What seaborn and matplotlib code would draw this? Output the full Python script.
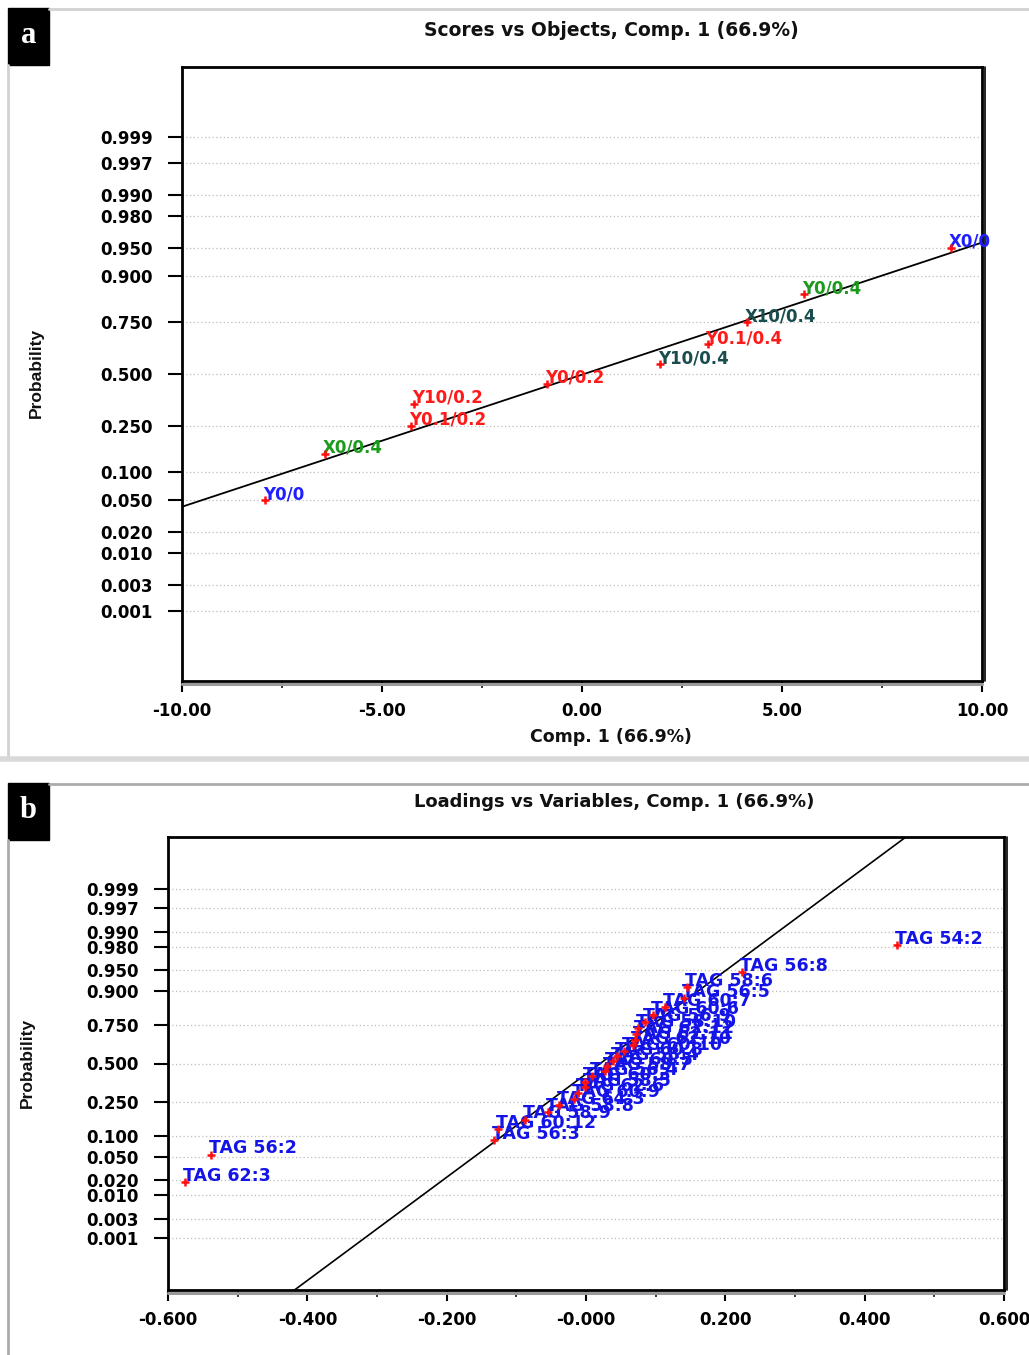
import numpy as np
import pandas as pd
import seaborn as sns
import matplotlib
matplotlib.use("Agg")
import matplotlib.pyplot as plt
from matplotlib.lines import Line2D
from matplotlib.patches import Rectangle
from matplotlib.ticker import FixedLocator, MultipleLocator, FixedFormatter, NullLocator
from matplotlib.transforms import offset_copy
from statistics import NormalDist

# ---------------- data ----------------
prob_ticks = [0.001, 0.003, 0.010, 0.020, 0.050, 0.100, 0.250, 0.500,
              0.750, 0.900, 0.950, 0.980, 0.990, 0.997, 0.999]

# (a) PCA scores on component 1, sorted, with their normal plotting positions
score_names = ["Y0/0", "X0/0.4", "Y0.1/0.2", "Y10/0.2", "Y0/0.2",
               "Y10/0.4", "Y0.1/0.4", "X10/0.4", "Y0/0.4", "X0/0"]
score_values = [-7.93, -6.43, -4.27, -4.19, -0.88, 1.95, 3.14, 4.12, 5.55, 9.23]
score_probs = [0.05, 0.15, 0.25, 0.35, 0.45, 0.55, 0.65, 0.75, 0.85, 0.95]
score_colors = ["#1f1fff", "#1c9a1c", "#ff1a1a", "#ff1a1a", "#ff1a1a",
                "#1a4d4d", "#ff1a1a", "#1a4d4d", "#1c9a1c", "#1f1fff"]
score_fit_mean, score_fit_sd = 0.05, 5.81
score_ticks = [-10, -5, 0, 5, 10]
score_tick_labels = ["-10.00", "-5.00", "0.00", "5.00", "10.00"]

# (b) PCA loadings on component 1, sorted, with their normal plotting positions
loading_names = ["TAG 62:3", "TAG 56:2", "TAG 56:3", "TAG 60:12", "TAG 58:9",
                 "TAG 58:8", "TAG 64:3", "TAG 60:9", "TAG 62:6", "TAG 58:5",
                 "TAG 60:3", "TAG 56:4", "TAG 58:7", "TAG 60:5", "TAG 58:4",
                 "TAG 60:8", "TAG 60:10", "TAG 62:10", "TAG 62:11", "TAG 62:12",
                 "TAG 58:10", "TAG 56:9", "TAG 60:6", "TAG 60:7", "TAG 56:5",
                 "TAG 58:6", "TAG 56:8", "TAG 54:2"]
loading_values = [-0.576, -0.538, -0.132, -0.126, -0.088, -0.055, -0.039, -0.017,
                  -0.012, -0.002, -0.001, 0.009, 0.027, 0.030, 0.039, 0.045,
                  0.055, 0.068, 0.070, 0.072, 0.075, 0.085, 0.096, 0.114,
                  0.141, 0.145, 0.224, 0.446]
loading_probs = [0.018, 0.054, 0.089, 0.125, 0.161, 0.196, 0.232, 0.268,
                 0.304, 0.339, 0.375, 0.411, 0.446, 0.482, 0.518, 0.554,
                 0.589, 0.625, 0.661, 0.696, 0.732, 0.768, 0.804, 0.839,
                 0.875, 0.911, 0.946, 0.982]
loading_fit_mean, loading_fit_sd = 0.0204, 0.1097
loading_ticks = [-0.6, -0.4, -0.2, 0.0, 0.2, 0.4, 0.6]
loading_tick_labels = ["-0.600", "-0.400", "-0.200", "-0.000", "0.200", "0.400", "0.600"]

# ---------------- normal probability scale ----------------
_nd = NormalDist()
_ppf = np.vectorize(_nd.inv_cdf, otypes=[float])
_cdf = np.vectorize(_nd.cdf, otypes=[float])


def prob_forward(p):
    p = np.clip(np.asarray(p, dtype=float), 1e-15, 1 - 1e-15)
    return _ppf(p)


def prob_inverse(z):
    return _cdf(np.asarray(z, dtype=float))


sns.set_theme(style="white")
plt.rcParams["font.family"] = ["DejaVu Sans"]
plt.rcParams["font.weight"] = "bold"

W, H = 1029, 1355
fig = plt.figure(figsize=(W / 100, H / 100), dpi=100)


def box(l, t, r, b):
    return [l / W, 1 - b / H, (r - l) / W, (b - t) / H]


def fpt(x, y):
    return (x / W, 1 - y / H)


def style_axes(ax, xlim, xticks, xlabels, xminor):
    ax.set_yscale("function", functions=(prob_forward, prob_inverse))
    ax.set_ylim(float(prob_inverse(-4.0)), float(prob_inverse(4.0)))
    ax.yaxis.set_major_locator(FixedLocator(prob_ticks))
    ax.yaxis.set_major_formatter(FixedFormatter([f"{p:.3f}" for p in prob_ticks]))
    ax.yaxis.set_minor_locator(NullLocator())
    ax.set_xlim(*xlim)
    ax.xaxis.set_major_locator(FixedLocator(xticks))
    ax.xaxis.set_major_formatter(FixedFormatter(xlabels))
    ax.xaxis.set_minor_locator(MultipleLocator(xminor))
    ax.yaxis.grid(True, linestyle=(0, (1, 2)), color="#bdbdbd", linewidth=0.9)
    ax.xaxis.grid(False)
    for s in ax.spines.values():
        s.set_color("black")
        s.set_linewidth(2.0)
    ax.tick_params(axis="y", which="major", direction="out", length=10, width=1.5,
                   pad=11, labelsize=12, colors="black", left=True)
    ax.tick_params(axis="x", which="major", direction="out", length=8, width=1.5,
                   pad=7, labelsize=12, colors="black", bottom=True)
    ax.tick_params(axis="x", which="minor", direction="out", length=5, width=1.3,
                   bottom=True)
    for lab in ax.get_xticklabels() + ax.get_yticklabels():
        lab.set_fontweight("bold")
    ax.set_xlabel("")
    ax.set_ylabel("")
    # double frame on the right and bottom edges
    ax.plot([1, 1], [0, 1], transform=offset_copy(ax.transAxes, fig, x=3, y=0, units="dots"),
            color="black", lw=1.2, clip_on=False)
    ax.plot([0, 1], [0, 0], transform=offset_copy(ax.transAxes, fig, x=0, y=-3, units="dots"),
            color="#9a9a9a", lw=2.2, clip_on=False)


# ---------------- panel a ----------------
ax_a = fig.add_axes(box(182, 67, 982, 681))
style_axes(ax_a, (-10, 10), score_ticks, score_tick_labels, 2.5)

xa = np.array([-10.0, 10.0])
sns.lineplot(x=xa, y=prob_inverse((xa - score_fit_mean) / score_fit_sd), ax=ax_a,
             color="black", lw=1.3, estimator=None, sort=False, zorder=2)

df_a = pd.DataFrame({"score": score_values, "prob": score_probs})
sns.scatterplot(data=df_a, x="score", y="prob", ax=ax_a, marker="+", s=32,
                color="#ff1010", linewidth=1.8, zorder=5, legend=False)
for x, p, name, c in zip(score_values, score_probs, score_names, score_colors):
    ax_a.annotate(name, (x, p), xytext=(-1.5, 0.8), textcoords="offset points",
                  ha="left", va="baseline", color=c, fontsize=12,
                  fontweight="bold", zorder=4, annotation_clip=False)
ax_a.set_xlabel("")
ax_a.set_ylabel("")

# ---------------- panel b ----------------
ax_b = fig.add_axes(box(168, 837, 1004, 1290))
style_axes(ax_b, (-0.6, 0.6), loading_ticks, loading_tick_labels, 0.1)

xb = np.array([-0.6, 0.6])
sns.lineplot(x=xb, y=prob_inverse((xb - loading_fit_mean) / loading_fit_sd), ax=ax_b,
             color="black", lw=1.2, estimator=None, sort=False, zorder=2)

df_b = pd.DataFrame({"loading": loading_values, "prob": loading_probs})
for x, p, name in zip(loading_values, loading_probs, loading_names):
    ax_b.annotate(name, (x, p), xytext=(-1.5, 0.8), textcoords="offset points",
                  ha="left", va="baseline", color="#1414e6", fontsize=12.5,
                  fontweight="bold", zorder=3, annotation_clip=False)
sns.scatterplot(data=df_b, x="loading", y="prob", ax=ax_b, marker="+", s=32,
                color="#ff1010", linewidth=1.8, zorder=5, legend=False)
ax_b.set_xlabel("")
ax_b.set_ylabel("")

# ---------------- titles and axis labels ----------------
fig.text(*fpt(611, 31), "Scores vs Objects, Comp. 1 (66.9%)", ha="center", va="center",
         fontsize=13.5, fontweight="bold", color="#111111")
fig.text(*fpt(611, 737), "Comp. 1 (66.9%)", ha="center", va="center",
         fontsize=12.5, fontweight="bold", color="#111111")
fig.text(*fpt(36, 373), "Probability", ha="center", va="center", rotation=90,
         fontsize=12.5, fontweight="bold", family=["Liberation Sans", "DejaVu Sans"],
         color="#111111")
fig.text(*fpt(614, 802), "Loadings vs Variables, Comp. 1 (66.9%)", ha="center",
         va="center", fontsize=13, fontweight="bold", color="#111111")
fig.text(*fpt(27, 1063), "Probability", ha="center", va="center", rotation=90,
         fontsize=12.5, fontweight="bold", family=["Liberation Sans", "DejaVu Sans"],
         color="#111111")

# ---------------- panel frames and letter tags ----------------
def fig_line(x0, y0, x1, y1, color, lw):
    fig.add_artist(Line2D([x0 / W, x1 / W], [1 - y0 / H, 1 - y1 / H],
                          transform=fig.transFigure, color=color, lw=lw))


fig_line(49, 9, 1029, 9, "#d2d2d2", 2)
fig_line(8, 65, 8, 757, "#d2d2d2", 2)
fig_line(0, 759, 1029, 759, "#d9d9d9", 4)
fig_line(49, 784, 1029, 784, "#ababab", 2)
fig_line(8, 840, 8, 1355, "#ababab", 2)

for (l, t, r, b), letter in [((8, 8, 49, 65), "a"), ((8, 783, 49, 840), "b")]:
    fig.add_artist(Rectangle((l / W, 1 - b / H), (r - l) / W, (b - t) / H,
                             transform=fig.transFigure, facecolor="black",
                             edgecolor="black"))
    fig.text((l + r) / 2 / W, 1 - ((t + b) / 2 - 1) / H, letter, ha="center",
             va="center", color="white", fontsize=22, fontweight="bold",
             family=["Liberation Serif", "DejaVu Serif"])

fig.savefig("out.png", dpi=100)
